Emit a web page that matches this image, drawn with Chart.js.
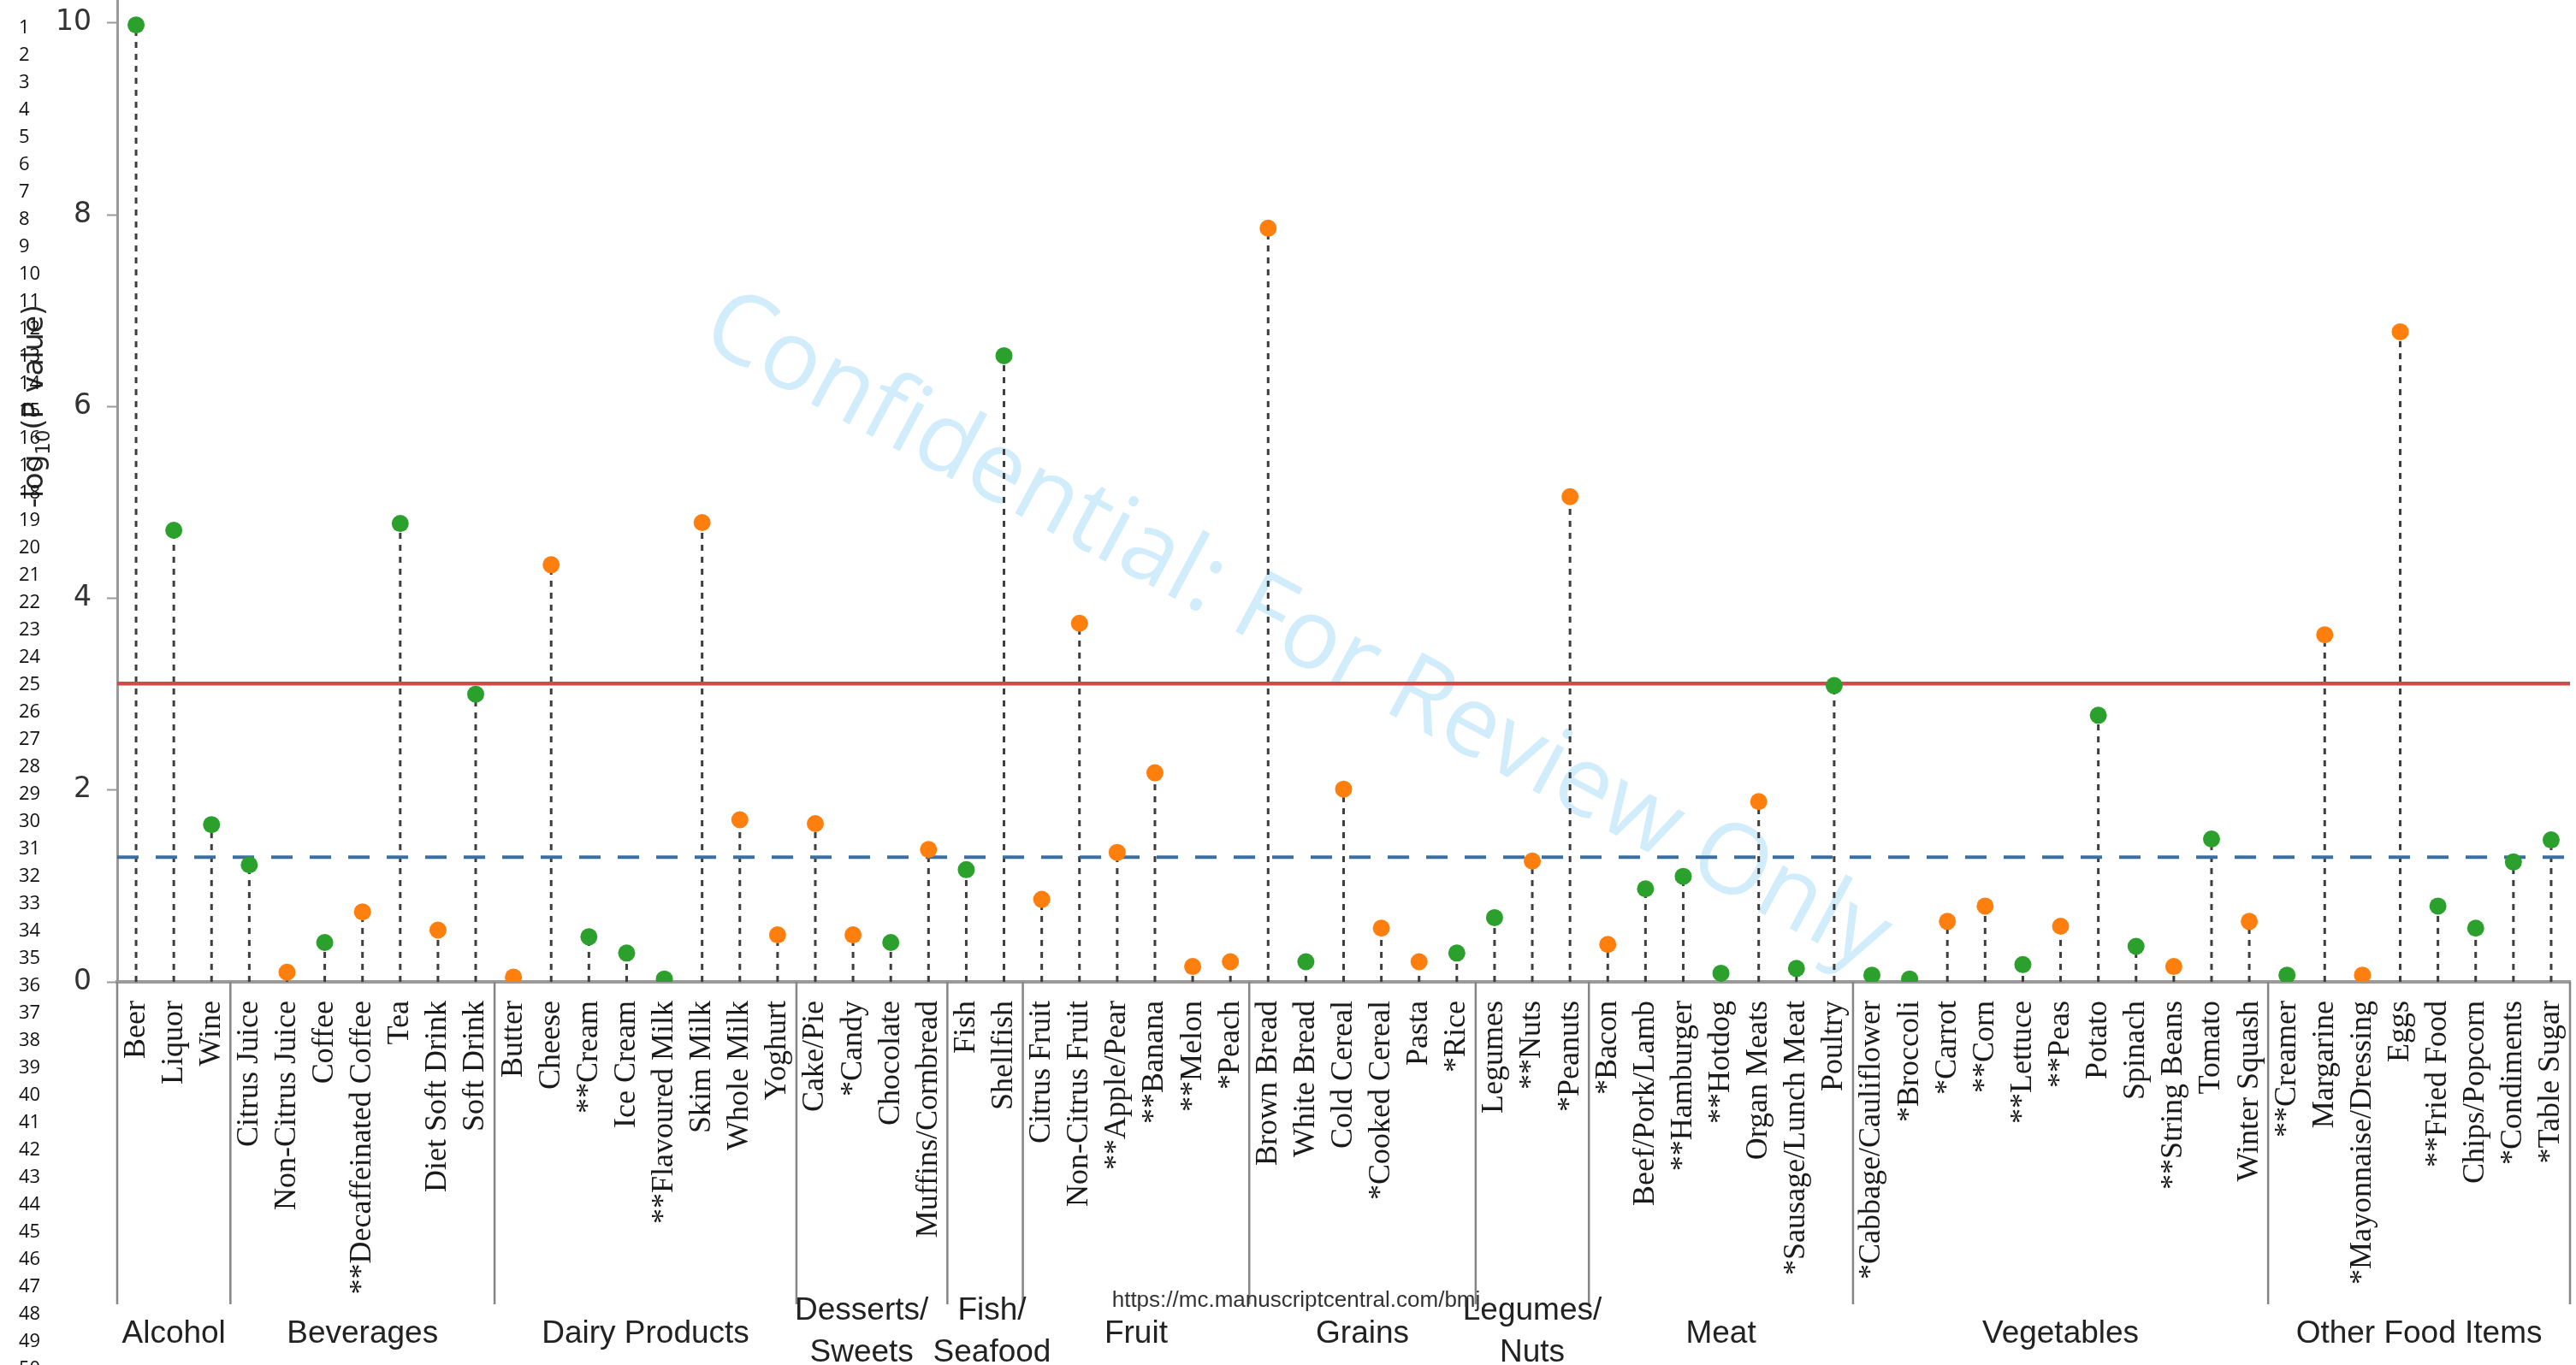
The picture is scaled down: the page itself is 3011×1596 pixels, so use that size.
<!DOCTYPE html>
<html>
<head>
<meta charset="utf-8">
<script src="https://cdn.jsdelivr.net/npm/chart.js@4.4.1/dist/chart.umd.min.js"></script>
<style>
  html, body { margin: 0; padding: 0; background: #fff; }
  canvas { display: block; }
</style>
</head>
<body>
<canvas id="chart" width="3011" height="1596"></canvas>
<script>
// Food items, in plotting order, grouped by food category
const foodItems = [
  'Beer', 'Liquor', 'Wine',
  'Citrus Juice', 'Non-Citrus Juice', 'Coffee', '**Decaffeinated Coffee', 'Tea', 'Diet Soft Drink', 'Soft Drink',
  'Butter', 'Cheese', '**Cream', 'Ice Cream', '**Flavoured Milk', 'Skim Milk', 'Whole Milk', 'Yoghurt',
  'Cake/Pie', '*Candy', 'Chocolate', 'Muffins/Cornbread',
  'Fish', 'Shellfish',
  'Citrus Fruit', 'Non-Citrus Fruit', '**Apple/Pear', '**Banana', '**Melon', '*Peach',
  'Brown Bread', 'White Bread', 'Cold Cereal', '*Cooked Cereal', 'Pasta', '*Rice',
  'Legumes', '**Nuts', '*Peanuts',
  '*Bacon', 'Beef/Pork/Lamb', '**Hamburger', '**Hotdog', 'Organ Meats', '*Sausage/Lunch Meat', 'Poultry',
  '*Cabbage/Cauliflower', '*Broccoli', '*Carrot', '**Corn', '**Lettuce', '**Peas', 'Potato', 'Spinach',
  '**String Beans', 'Tomato', 'Winter Squash',
  '**Creamer', 'Margarine', '*Mayonnaise/Dressing', 'Eggs', '**Fried Food', 'Chips/Popcorn', '*Condiments', '*Table Sugar'
];

// Category names (one entry per text line) and how many items each holds
const foodGroups = [
  ['Alcohol'], ['Beverages'], ['Dairy Products'], ['Desserts/', 'Sweets'], ['Fish/', 'Seafood'],
  ['Fruit'], ['Grains'], ['Legumes/', 'Nuts'], ['Meat'], ['Vegetables'], ['Other Food Items']
];
const groupSizes = [3, 7, 8, 4, 2, 6, 6, 3, 7, 11, 8];

// -log10(P value) for each food item
const logP = [
  9.98, 4.71, 1.64,
  1.22, 0.10, 0.41, 0.73, 4.78, 0.54, 3.00,
  0.05, 4.35, 0.47, 0.30, 0.03, 4.79, 1.69, 0.49,
  1.65, 0.49, 0.41, 1.38,
  1.17, 6.53,
  0.86, 3.74, 1.35, 2.18, 0.16, 0.21,
  7.86, 0.21, 2.01, 0.56, 0.21, 0.30,
  0.67, 1.26, 5.06,
  0.39, 0.97, 1.10, 0.09, 1.88, 0.14, 3.09,
  0.07, 0.03, 0.63, 0.79, 0.18, 0.58, 2.78, 0.37, 0.16, 1.49, 0.63,
  0.07, 3.62, 0.07, 6.78, 0.79, 0.56, 1.25, 1.48
];

// Direction of the association: 'inverse' or 'positive'
const direction = [
  'inverse', 'inverse', 'inverse',
  'inverse', 'positive', 'inverse', 'positive', 'inverse', 'positive', 'inverse',
  'positive', 'positive', 'inverse', 'inverse', 'inverse', 'positive', 'positive', 'positive',
  'positive', 'positive', 'inverse', 'positive',
  'inverse', 'inverse',
  'positive', 'positive', 'positive', 'positive', 'positive', 'positive',
  'positive', 'inverse', 'positive', 'positive', 'positive', 'inverse',
  'inverse', 'positive', 'positive',
  'positive', 'inverse', 'inverse', 'inverse', 'positive', 'inverse', 'inverse',
  'inverse', 'inverse', 'positive', 'positive', 'inverse', 'positive', 'inverse', 'inverse', 'positive', 'inverse', 'positive',
  'inverse', 'positive', 'positive', 'positive', 'inverse', 'inverse', 'inverse', 'inverse'
];

// Significance thresholds on the -log10(P) scale
const bonferroniThreshold = 3.11;
const nominalThreshold = 1.30;

const yTickStep = 2;
const urlText = 'https://mc.manuscriptcentral.com/bmj';
const watermarkText = 'Confidential: For Review Only';

const directionColors = { inverse: '#2ca02c', positive: '#ff7f0e' };

// dotted stems: a segment from 0 up to each value, separated by gaps
const stemPoints = [];
logP.forEach((v, i) => {
  stemPoints.push({ x: i, y: 0 }, { x: i, y: v }, { x: i, y: null });
});

const xMin = -0.5;
const xMax = foodItems.length - 0.5;

// small horizontal nudges (px) for the two-line category names that sit side by side
const groupLabelShift = { 3: -12, 4: 8 };

const decorations = {
  id: 'decorations',
  beforeDraw(chart) {
    const ctx = chart.ctx;
    ctx.save();
    ctx.fillStyle = '#ffffff';
    ctx.fillRect(0, 0, chart.width, chart.height);
    // review watermark across the plot
    const size = 114;
    ctx.translate(1519, 732);
    ctx.rotate(28.2 * Math.PI / 180);
    ctx.font = size + 'px "Open Sans"';
    ctx.fillStyle = 'rgb(209, 237, 251)';
    ctx.textAlign = 'center';
    ctx.textBaseline = 'alphabetic';
    ctx.fillText(watermarkText, 0, 0.357 * size);
    ctx.restore();
  },
  afterDraw(chart) {
    const ctx = chart.ctx;
    const x = chart.scales.x;
    const area = chart.chartArea;
    ctx.save();

    // category separators below the axis
    const bounds = [xMin];
    let acc = 0;
    groupSizes.forEach(n => { acc += n; bounds.push(acc - 0.5); });
    ctx.strokeStyle = '#858585';
    ctx.lineWidth = 2.5;
    bounds.forEach(b => {
      const px = x.getPixelForValue(b);
      ctx.beginPath();
      ctx.moveTo(px, area.bottom);
      ctx.lineTo(px, 1525);
      ctx.stroke();
    });

    // category names
    ctx.font = '37px "Liberation Sans"';
    ctx.fillStyle = '#222';
    ctx.textAlign = 'center';
    ctx.textBaseline = 'alphabetic';
    foodGroups.forEach((lines, g) => {
      const cx = (x.getPixelForValue(bounds[g]) + x.getPixelForValue(bounds[g + 1])) / 2 + (groupLabelShift[g] || 0);
      if (lines.length === 1) {
        ctx.fillText(lines[0], cx, 1570);
      } else {
        ctx.fillText(lines[0], cx, 1543);
        ctx.fillText(lines[1], cx, 1592);
      }
    });

    // journal url
    ctx.font = '26px "Liberation Sans"';
    ctx.fillStyle = '#333';
    ctx.fillText(urlText, 1515, 1528);

    // y axis title: -log10(P value)
    ctx.save();
    ctx.translate(40, 475);
    ctx.rotate(-Math.PI / 2);
    const fs = 33;
    const subFs = 23;
    const partA = '-log';
    const partSub = '10';
    const partB = '(P value)';
    ctx.font = fs + 'px "DejaVu Sans"';
    const wA = ctx.measureText(partA).width;
    const wB = ctx.measureText(partB).width;
    ctx.font = subFs + 'px "DejaVu Sans"';
    const wS = ctx.measureText(partSub).width;
    const total = wA + wS + wB;
    let cur = -total / 2;
    ctx.fillStyle = '#262626';
    ctx.textAlign = 'left';
    ctx.font = fs + 'px "DejaVu Sans"';
    ctx.fillText(partA, cur, 10);
    cur += wA;
    ctx.font = subFs + 'px "DejaVu Sans"';
    ctx.fillText(partSub, cur, 18);
    cur += wS;
    ctx.font = fs + 'px "DejaVu Sans"';
    ctx.fillText(partB, cur, 10);
    ctx.restore();

    // manuscript line numbers
    ctx.font = '22px "Open Sans"';
    ctx.fillStyle = '#111';
    ctx.textAlign = 'left';
    ctx.textBaseline = 'middle';
    for (let n = 1; n <= 50; n++) {
      ctx.fillText(String(n), 22, 33 + (n - 1) * 32);
    }
    ctx.restore();
  }
};

new Chart(document.getElementById('chart'), {
  type: 'scatter',
  data: {
    datasets: [
      {
        type: 'scatter',
        label: '-log10(P value)',
        data: logP.map((v, i) => ({ x: i, y: v })),
        pointRadius: 10,
        pointHoverRadius: 10,
        pointBorderWidth: 0,
        pointBackgroundColor: direction.map(d => directionColors[d]),
        order: 0
      },
      {
        type: 'line',
        label: 'Bonferroni threshold',
        data: [{ x: xMin, y: bonferroniThreshold }, { x: xMax, y: bonferroniThreshold }],
        borderColor: '#cf4a4a',
        borderWidth: 4.5,
        pointRadius: 0,
        order: 1
      },
      {
        type: 'line',
        label: 'P = 0.05',
        data: [{ x: xMin, y: nominalThreshold }, { x: xMax, y: nominalThreshold }],
        borderColor: '#3b6fa0',
        borderWidth: 4,
        borderDash: [25, 20],
        pointRadius: 0,
        order: 1
      },
      {
        type: 'line',
        label: 'stems',
        data: stemPoints,
        borderColor: '#3e3e3e',
        borderWidth: 3,
        borderDash: [7, 7],
        pointRadius: 0,
        spanGaps: false,
        order: 2
      }
    ]
  },
  options: {
    responsive: false,
    animation: false,
    devicePixelRatio: 1,
    events: [],
    layout: { autoPadding: false, padding: { left: 0, right: 7, top: 0, bottom: 0 } },
    plugins: { legend: { display: false }, tooltip: { enabled: false } },
    scales: {
      x: {
        type: 'linear',
        min: xMin,
        max: xMax,
        offset: false,
        afterBuildTicks: s => { s.ticks = foodItems.map((_, i) => ({ value: i })); },
        afterFit: s => { s.height = 448; s.paddingLeft = 0; s.paddingRight = 0; },
        grid: { display: true, drawOnChartArea: false, drawTicks: false },
        border: { display: true, color: '#9a9a9a', width: 4 },
        ticks: {
          autoSkip: false,
          minRotation: 90,
          maxRotation: 90,
          padding: 22,
          color: '#1a1a1a',
          font: { family: '"Liberation Serif"', size: 36 },
          callback: v => foodItems[v]
        }
      },
      y: {
        min: 0,
        max: 10.24,
        afterFit: s => { s.width = 137; s.paddingTop = 0; s.paddingBottom = 0; },
        grid: { display: true, drawOnChartArea: false, drawTicks: true, tickLength: 12, tickColor: '#999', tickWidth: 2 },
        border: { display: true, color: '#9a9a9a', width: 3 },
        ticks: {
          stepSize: yTickStep,
          includeBounds: false,
          padding: 18,
          color: '#333',
          font: { family: '"DejaVu Sans"', size: 33 }
        }
      }
    }
  },
  plugins: [decorations]
});
</script>
</body>
</html>
